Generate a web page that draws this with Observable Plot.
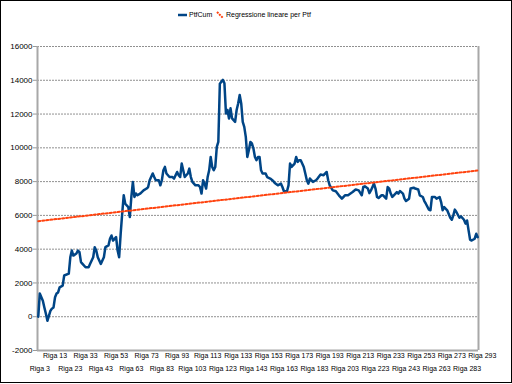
<!DOCTYPE html>
<html>
<head>
<meta charset="utf-8">
<script src="https://cdn.jsdelivr.net/npm/d3@7"></script>
<script src="https://cdn.jsdelivr.net/npm/@observablehq/plot@0.6"></script>
<style>
  body { margin: 0; background: white; }
  #wrap { position: relative; width: 512px; height: 384px; overflow: hidden; font-family: "Liberation Sans", Arial, sans-serif; }
  #border { position: absolute; left: 0; top: 0; width: 512px; height: 383px; box-sizing: border-box; border: 1px solid black; pointer-events: none; }
  #legend { position: absolute; top: 10px; left: 0; width: 512px; height: 10px; font-size: 7px; color: #000; }
  #legend span { position: absolute; top: 0; line-height: 10px; white-space: nowrap; }
  #legend svg { position: absolute; top: 0; }
  #chart svg { display: block; }
</style>
</head>
<body>
<div id="wrap">
  <div id="chart"></div>
  <div id="legend"></div>
  <div id="border"></div>
</div>
<script>
// Row numbers (categories "Riga N") and the cumulative portfolio values
const rowNums = [2,3,5,6,7,8,10,11,12,13,14,15,16,18,19,22,23,24,25,27,28,29,30,31,33,35,36,38,39,40,41,43,45,46,48,49,50,51,53,54,55,56,57,58,59,61,62,63,64,65,66,67,69,71,73,74,75,77,78,79,81,82,83,84,85,86,88,90,91,92,93,94,95,96,97,98,100,101,102,103,105,107,108,109,110,111,112,113,114,115,116,117,118,119,120,121,122,123,124,125,126,127,128,129,130,131,132,133,134,135,136,137,138,139,140,141,142,143,144,145,146,147,148,149,151,152,154,156,157,159,161,162,163,165,166,167,168,170,171,172,173,174,176,177,178,179,180,182,184,185,187,189,191,192,193,195,197,199,201,203,205,208,210,212,214,215,216,218,219,220,222,223,224,225,227,228,230,231,232,233,234,235,237,238,239,241,242,243,245,246,248,249,251,252,254,255,256,258,259,260,262,263,265,266,267,268,270,272,273,274,275,276,278,279,281,282,283,284,285,286,288,289,290];
const ptfCum = [0,1370,950,550,180,-240,360,480,550,1150,1370,1440,1740,1840,2440,2550,3520,3920,3620,3740,3920,3820,3230,3130,2930,2930,3130,3520,4120,3920,3520,3130,3520,4120,4220,4620,4810,4510,4710,3920,3520,4910,6100,7190,6690,6490,5900,7090,7980,7090,7300,7190,7300,7480,7590,7680,8080,8480,8270,8080,8080,7780,8080,8670,8870,8480,8270,8270,8180,8380,8570,8380,8270,9070,8670,8270,8480,8770,8270,7980,7780,7780,7680,7290,8080,7880,7590,8270,8670,9460,8870,8670,8870,10060,10350,13800,13920,14020,13820,12040,12240,11740,12340,11740,11640,11540,12240,12630,13130,12630,11540,11240,10650,9460,9860,10350,10260,9960,9460,9270,9460,9460,8670,8480,8480,8270,8180,8040,7920,7780,7880,7680,7430,7430,7780,9070,8870,9070,9460,9170,9270,9270,8870,8480,8080,7880,8180,7980,8080,8180,8420,8380,8570,8080,7780,7480,7430,7190,6990,7190,7190,7380,7530,7480,7190,7680,7720,7590,7320,7480,7880,7590,7090,7030,7190,7190,6990,7680,7590,7290,7090,7190,7380,7290,7440,7290,6990,6850,6990,7590,7640,7590,7530,7190,7090,6850,6690,6340,6300,7090,7090,6990,7090,6790,6300,6490,6300,5860,5740,6000,6340,6200,5860,5940,5740,5510,5700,5110,4560,4510,4620,4910,4710];
// Axis ticks
const yTicks = [-2000,0,2000,4000,6000,8000,10000,12000,14000,16000];
const xTicksUpper = [13,33,53,73,93,113,133,153,173,193,213,233,253,273,293];
const xTicksLower = [3,23,43,63,83,103,123,143,163,183,203,223,243,263,283];
const seriesNames = ["PtfCum", "Regressione lineare per Ptf"];

const data = rowNums.map((r, i) => ({row: r, ptf: ptfCum[i]}));
const lineColor = "#004586";
const regColor = "#ff420e";

const chart = Plot.plot({
  width: 512,
  height: 384,
  marginLeft: 37,
  marginRight: 34,
  marginTop: 46,
  marginBottom: 34,
  x: {type: "linear", domain: [1.5, 290.5], label: null},
  y: {domain: [-2000, 16000], label: null},
  style: {fontFamily: "Liberation Sans, Arial, sans-serif", fontSize: "7px", background: "white", color: "black"},
  marks: [
    Plot.gridY(yTicks, {stroke: "#909090", strokeOpacity: 1, strokeDasharray: "2,1"}),
    Plot.axisY(yTicks, {tickSize: 4, tickPadding: 1, tickFormat: d => String(d), fontSize: 8, stroke: "#999", label: null}),
    Plot.axisX(xTicksUpper, {tickSize: 0, tickPadding: 3, tickFormat: d => "Riga " + d, label: null}),
    Plot.axisX(xTicksLower, {tickSize: 0, tickPadding: 16, tickFormat: d => "Riga " + d, label: null}),
    Plot.ruleX([1.5], {stroke: "#a8a8a8", strokeWidth: 2}),
    Plot.ruleX([290.5], {stroke: "#a8a8a8", strokeWidth: 2}),
    Plot.ruleY([-2000], {stroke: "#a8a8a8", strokeWidth: 2}),
    Plot.line(data, {x: "row", y: "ptf", stroke: lineColor, strokeWidth: 2.5}),
    Plot.linearRegressionY(data, {x: "row", y: "ptf", stroke: regColor, strokeWidth: 2, strokeDasharray: "2,2", ci: 0})
  ]
});
document.getElementById("chart").appendChild(chart);

// Legend
const legend = document.getElementById("legend");
legend.innerHTML = `
  <svg style="left:178px" width="9" height="10"><line x1="0" y1="5" x2="9" y2="5" stroke="${lineColor}" stroke-width="2.5"/></svg>
  <span style="left:189px">${seriesNames[0]}</span>
  <svg style="left:216px" width="8" height="10"><line x1="1" y1="2" x2="7" y2="8" stroke="${regColor}" stroke-width="2" stroke-dasharray="2,1"/></svg>
  <span style="left:226px">${seriesNames[1]}</span>`;
</script>
</body>
</html>
